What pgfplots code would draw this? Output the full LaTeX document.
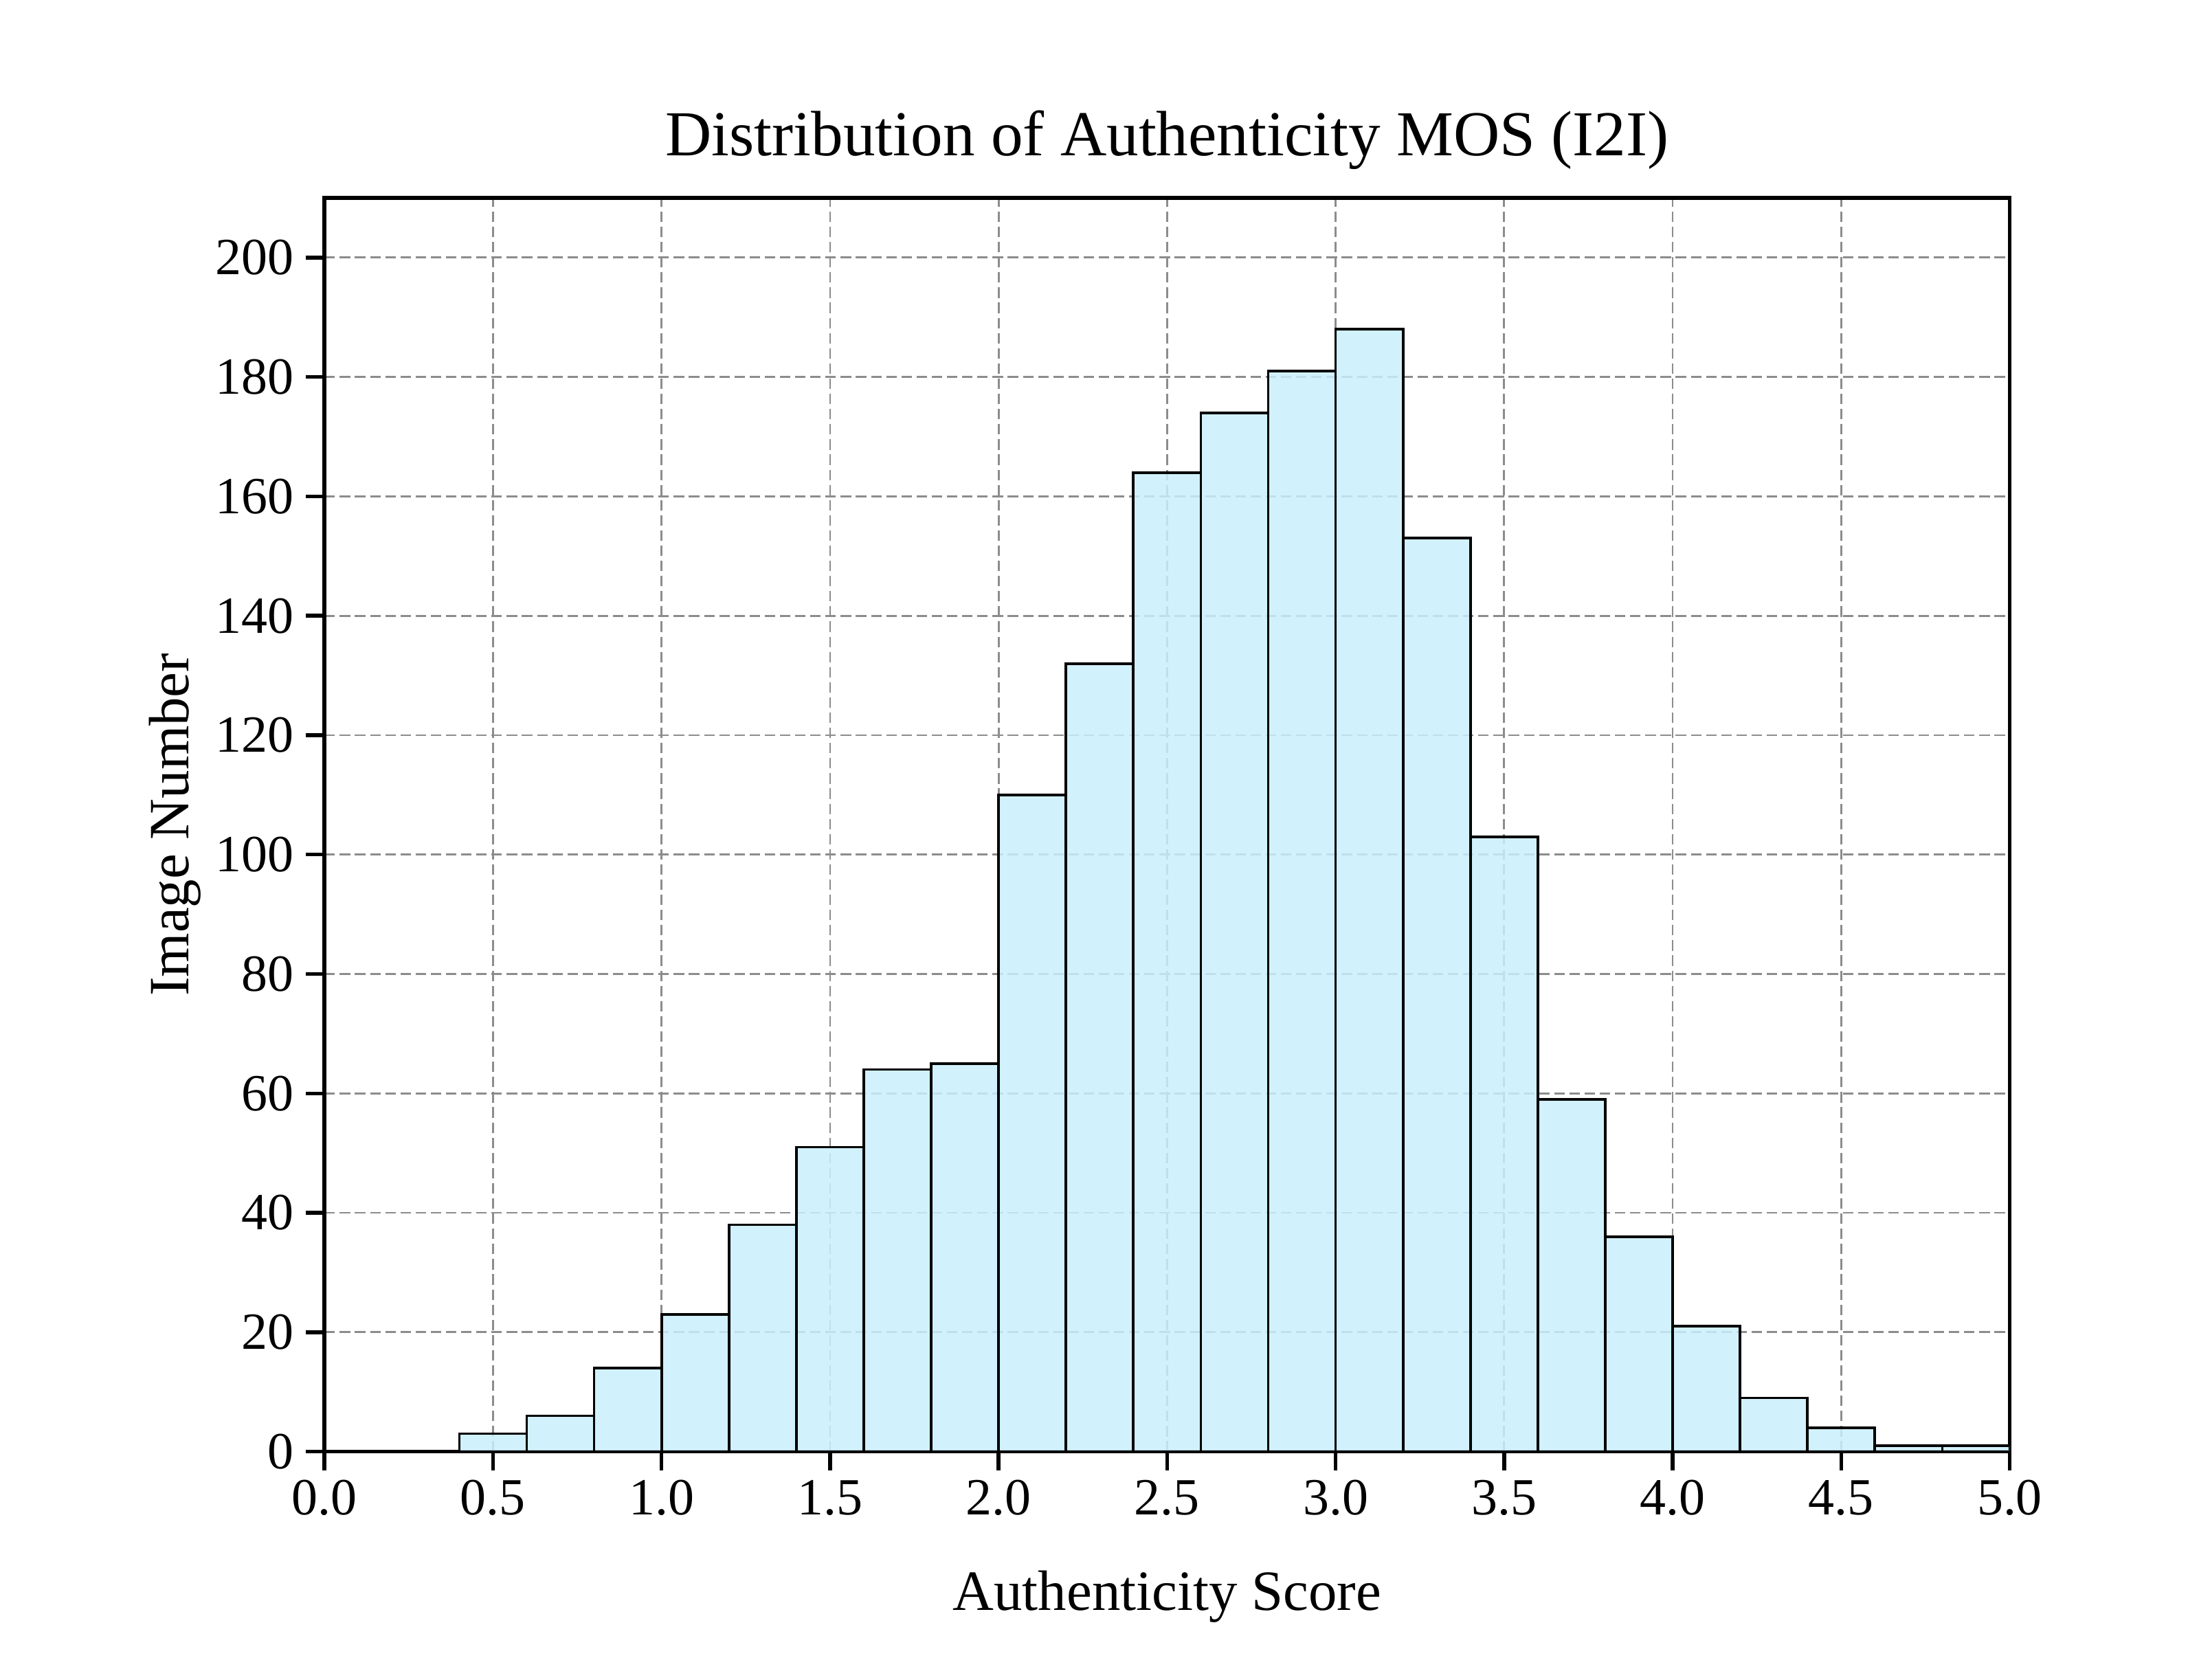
\documentclass[border=0pt]{standalone}
\usepackage{fontspec}
\setmainfont{Liberation Serif}
\usepackage{pgfplots}
\pgfplotsset{compat=1.18}
\definecolor{barfill}{RGB}{201,239,251}
\begin{document}
\begin{tikzpicture}
\path[use as bounding box] (-68.4pt,-48pt) rectangle (395.1pt,306pt);
\begin{axis}[
  at={(0,0)}, anchor=south west,
  scale only axis, width=355.2pt, height=264.3pt,
  xmin=0, xmax=5, ymin=0, ymax=210,
  xtick={0,0.5,1,1.5,2,2.5,3,3.5,4,4.5,5},
  ytick={0,20,40,60,80,100,120,140,160,180,200},
  /pgf/number format/assume math mode=true,
  xticklabel style={/pgf/number format/fixed, /pgf/number format/fixed zerofill, /pgf/number format/precision=1, yshift=1.5pt},
  yticklabel style={xshift=1pt},
  tick align=outside, tick pos=left, major tick length=4pt,
  tick style={black, line width=0.8pt},
  axis line style={line width=0.8pt},
  grid=major,
  major grid style={dash pattern=on 2.2pt off 1pt, color=gray!90, line width=0.4pt},
  ticklabel style={font=\fontsize{11}{13}\selectfont},
  label style={font=\fontsize{12}{14}\selectfont},
  every axis title/.style={font=\fontsize{13.5}{16}\selectfont, at={(0.5,1.046)}, anchor=center},
  xlabel style={at={(axis description cs:0.5,-0.1158)}, anchor=center},
  ylabel style={at={(axis description cs:-0.0887,0.5)}, anchor=center},
  title={Distribution of Authenticity MOS (I2I)},
  xlabel={Authenticity Score},
  ylabel={Image Number},
]
\addplot[ybar interval, fill=barfill, fill opacity=0.85, draw=black, line width=0.55pt] coordinates {
(0.4,3) (0.6,6) (0.8,14) (1.0,23) (1.2,38) (1.4,51) (1.6,64) (1.8,65)
(2.0,110) (2.2,132) (2.4,164) (2.6,174) (2.8,181) (3.0,188) (3.2,153)
(3.4,103) (3.6,59) (3.8,36) (4.0,21) (4.2,9) (4.4,4) (4.6,1) (4.8,1) (5.0,1)
};
\end{axis}
\end{tikzpicture}
\end{document}
